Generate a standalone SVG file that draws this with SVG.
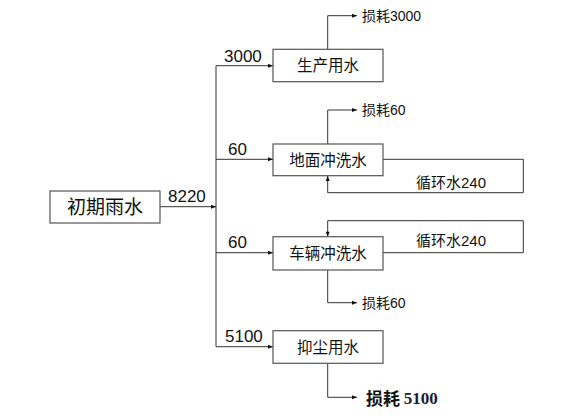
<svg xmlns="http://www.w3.org/2000/svg" width="572" height="420" viewBox="0 0 572 420">
<defs>
<marker id="ah" viewBox="0 0 10 10" refX="10" refY="5" markerWidth="7" markerHeight="5" orient="auto" markerUnits="userSpaceOnUse">
<path d="M0,1 L10,5 L0,9 Z" fill="#111"/>
</marker>
<style>
.box{fill:#fff;stroke:#555;stroke-width:1.2}
.lbl{font-family:"Liberation Sans","Noto Sans CJK SC",sans-serif;font-size:15.5px;fill:#111;text-anchor:middle;dominant-baseline:central}
.num{font-family:"Liberation Sans","Noto Sans CJK SC",sans-serif;font-size:17px;fill:#111}
.sm{font-family:"Liberation Sans","Noto Sans CJK SC",sans-serif;font-size:14px;fill:#111;dominant-baseline:central}
.ln{fill:none;stroke:#333;stroke-width:1}
.arr{fill:none;stroke:#333;stroke-width:1;marker-end:url(#ah)}
</style>
</defs>
<rect width="572" height="420" fill="#fff"/>
<g id="connectors">
<path class="arr" d="M160,206.7 H216"/>
<path class="ln" d="M216,65.7 V346.7"/>
<path class="arr" d="M216,65.7 H273"/>
<path class="arr" d="M216,159.3 H273"/>
<path class="arr" d="M216,252.7 H273"/>
<path class="arr" d="M216,346.7 H273"/>
<path class="arr" d="M327.7,49.3 V15.7 H357"/>
<path class="arr" d="M327.7,144 V110 H357"/>
<path class="arr" d="M383,159.3 H523.3 V192.7 H327.7 V176"/>
<path class="arr" d="M383,252.7 H523.3 V220.7 H327.7 V236.7"/>
<path class="arr" d="M327.7,270 V302.7 H357"/>
<path class="arr" d="M327.7,363.3 V397.3 H357"/>
<text class="num" x="168" y="202">8220</text>
<text class="num" x="224" y="62">3000</text>
<text class="num" x="228" y="155">60</text>
<text class="num" x="228" y="248">60</text>
<text class="num" x="225" y="342">5100</text>
<text class="sm" x="362" y="16">损耗3000</text>
<text class="sm" x="362" y="110">损耗60</text>
<text class="sm" x="362" y="303">损耗60</text>
<text class="sm" x="416" y="182" style="font-size:15px">循环水240</text>
<text class="sm" x="416" y="240" style="font-size:15px">循环水240</text>
<text x="366" y="397.5" dominant-baseline="central" style="font-family:'Noto Sans CJK SC',sans-serif;font-size:17px;font-weight:bold;fill:#111">损耗 <tspan style="font-family:'Liberation Serif',serif;fill:#1a1a33">5100</tspan></text>
</g>
<g id="n_rain"><rect class="box" x="50" y="191" width="110" height="32"/><text class="lbl" x="105" y="207" style="font-size:19px">初期雨水</text></g>
<g id="n_prod"><rect class="box" x="273" y="49.3" width="110" height="32.4"/><text class="lbl" x="328" y="65.5">生产用水</text></g>
<g id="n_floor"><rect class="box" x="273" y="144" width="110" height="31.7"/><text class="lbl" x="328" y="160">地面冲洗水</text></g>
<g id="n_car"><rect class="box" x="273" y="236.7" width="110" height="33.3"/><text class="lbl" x="328" y="253">车辆冲洗水</text></g>
<g id="n_dust"><rect class="box" x="273" y="330.7" width="110" height="32.6"/><text class="lbl" x="328" y="347">抑尘用水</text></g>
</svg>
